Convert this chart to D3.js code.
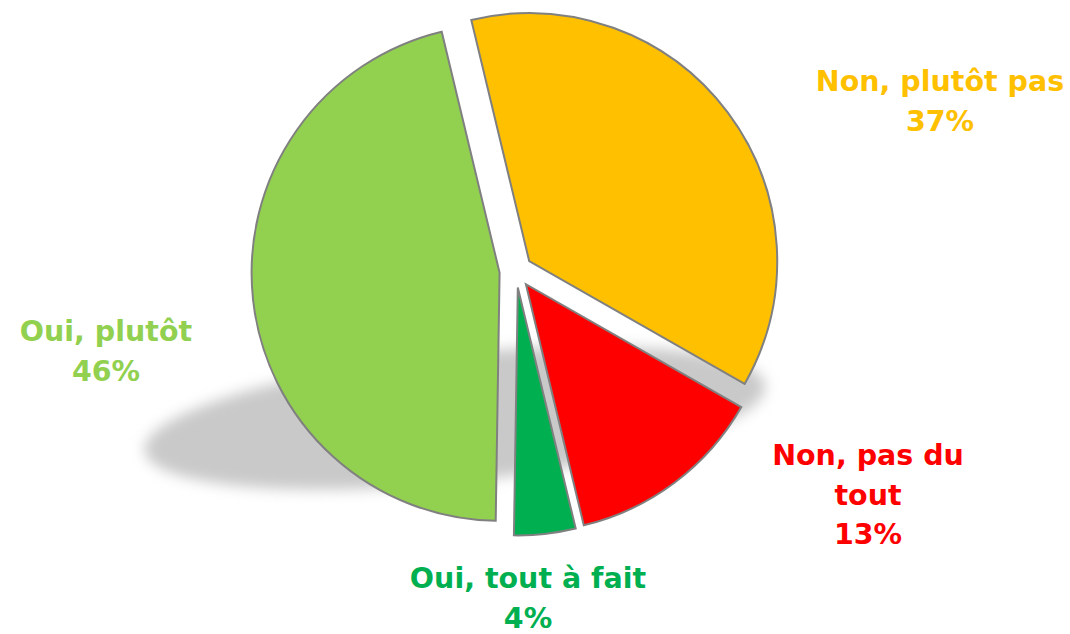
<!DOCTYPE html>
<head>
  <meta charset="utf-8">
  <script src="https://cdn.jsdelivr.net/npm/d3@7"></script>
  <style>
    body { margin: 0; background: white; }
    path.slice {
      stroke: #808080;
      stroke-width: 2;
    }
    text.lbl {
      font-family: "DejaVu Sans", sans-serif;
      font-weight: bold;
      font-size: 28.5px;
      text-anchor: middle;
    }
  </style>
</head>

<body>
  <script>
const W = 1070;
const H = 634;

// data, clockwise from the top
const categories = ["Non, plutôt pas", "Non, pas du tout", "Oui, tout à fait", "Oui, plutôt"];
const values = [37, 13, 4, 46];
const colors = ["#FFC000", "#FF0000", "#00B050", "#92D050"];
// how each label breaks into lines
const labelLines = [["Non, plutôt pas"], ["Non, pas du", "tout"], ["Oui, tout à fait"], ["Oui, plutôt"]];

// layout
const CX = 516, CY = 271, R = 248;
const EXPLODE = 16.5;
const START = -13.5 * Math.PI / 180;
const LINE_H = 39.5;
const labelPos = [[940, 91], [868, 465], [528, 588], [106, 341]];

var svg = d3.select("body").append("svg")
  .attr("width", W)
  .attr("height", H);

var defs = svg.append("defs");
defs.append("filter")
  .attr("id", "blur")
  .attr("x", "-20%").attr("y", "-50%")
  .attr("width", "140%").attr("height", "200%")
  .append("feGaussianBlur")
  .attr("stdDeviation", 7);

//soft shadow under the pie
svg.append("ellipse")
  .attr("cx", 455)
  .attr("cy", 418)
  .attr("rx", 312)
  .attr("ry", 64)
  .attr("transform", "rotate(-6,455,418)")
  .attr("fill", "#c9c9c9")
  .attr("filter", "url(#blur)");

var pie = d3.pie()
  .sort(null)
  .startAngle(START)
  .endAngle(START + 2 * Math.PI);

var arc = d3.arc()
  .innerRadius(0)
  .outerRadius(R);

var arcs = pie(values);

svg.append("g")
  .attr("transform", "translate(" + CX + "," + CY + ")")
  .selectAll("path")
  .data(arcs)
  .enter()
  .append("path")
  .attr("class", "slice")
  .attr("fill", (d, i) => colors[i])
  .attr("transform", d => {
    let mid = (d.startAngle + d.endAngle) / 2;
    return "translate(" + (EXPLODE * Math.sin(mid)) + "," + (-EXPLODE * Math.cos(mid)) + ")";
  })
  .attr("d", arc);

//labels
arcs.forEach((d, i) => {
  let lines = labelLines[i].concat([values[i] + "%"]);
  let t = svg.append("text")
    .attr("class", "lbl")
    .attr("fill", colors[i]);
  lines.forEach((s, j) => {
    t.append("tspan")
      .attr("x", labelPos[i][0])
      .attr("y", labelPos[i][1] + j * LINE_H)
      .text(s);
  });
});
  </script>
</body>
